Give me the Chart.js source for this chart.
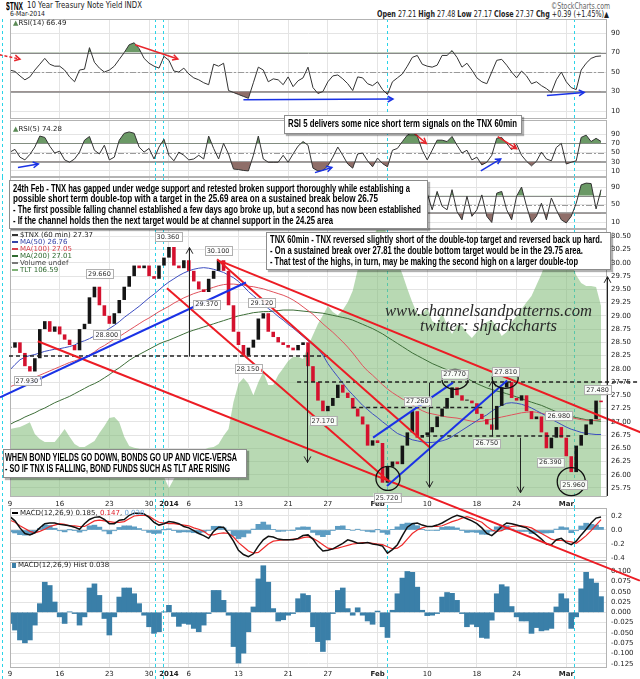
<!DOCTYPE html>
<html>
<head>
<meta charset="utf-8">
<title>$TNX 60 min</title>
<script src="https://cdn.jsdelivr.net/npm/chart.js@4.4.1/dist/chart.umd.min.js"></script>
<style>
  body { margin: 0; background: #fff; }
  #wrap { position: relative; width: 640px; height: 679px; overflow: hidden; font-family: "DejaVu Sans", sans-serif; color: #222; }
  canvas { position: absolute; left: 0; }
  .t { position: absolute; white-space: nowrap; line-height: 1; transform-origin: 0 50%; z-index: 6; }
  .box { position: absolute; background: #fff; border: 1px solid #8c8c8c; box-shadow: 2px 2px 1px rgba(0,0,0,0.3); z-index: 5; }
  .b { font-family: "Liberation Sans", Arial, sans-serif; font-weight: bold; font-size: 10px; color: #000; }
  .lg { font-size: 7px; }
  .wm { font-family: "Liberation Serif", serif; font-style: italic; font-size: 17px; color: #2a2a2a; }
  .ic { display: inline-block; width: 6px; height: 2px; margin-right: 2px; vertical-align: middle; }
</style>
</head>
<body>
<div id="wrap">
  <canvas id="cRsi14" width="640" height="100" style="top:19px;z-index:1"></canvas>
  <canvas id="cRsi5" width="640" height="57" style="top:120px;z-index:1"></canvas>
  <canvas id="cRsiC" width="640" height="52" style="top:177px;z-index:1"></canvas>
  <canvas id="cMacd" width="640" height="53" style="top:508px;z-index:1"></canvas>
  <canvas id="cHist" width="640" height="117" style="top:562px;z-index:1"></canvas>
  <canvas id="cMain" width="640" height="450" style="top:229px;z-index:3"></canvas>

  <div class="t b" style="left:6px;top:1px;font-size:11px" data-w="17">$TNX</div>
  <div class="t" style="left:27px;top:2px;font-size:8px" data-w="115">10 Year Treasury Note Yield INDX</div>
  <div class="t" style="left:10px;top:11px;font-size:7px" data-w="35">6-Mar-2014</div>
  <div class="t" style="left:551px;top:3px;font-size:8px;color:#666" data-w="59">©StockCharts.com</div>
  <div class="t" style="left:377px;top:11px;font-size:8px" data-w="232"><b>Open</b> 27.21 <b>High</b> 27.48 <b>Low</b> 27.17 <b>Close</b> 27.37 <b>Chg</b> +0.39 (+1.45%)▲</div>

  <div class="t lg" style="left:13px;top:20px"><span style="color:#5a8a55">▲</span>RSI(14) 66.49</div>
  <div class="t lg" style="left:13px;top:126px"><span style="color:#5a8a55">▲</span>RSI(5) 74.28</div>

  <div class="box" style="left:284px;top:115px;width:236px;height:17px"></div>
  <div class="t b" style="left:288px;top:119px" data-w="229">RSI 5 delivers some nice short term signals on the TNX 60min</div>

  <div class="box" style="left:9px;top:180px;width:417px;height:47px"></div>
  <div class="t b" style="left:13px;top:184px" data-w="397">24th Feb - TNX has gapped under wedge support and retested broken support thoroughly while establishing a</div>
  <div class="t b" style="left:13px;top:194px" data-w="365">possible short term double-top with a target in the 25.69 area on a sustained break below 26.75</div>
  <div class="t b" style="left:13px;top:205px" data-w="408">- The first possible falling channel established a few days ago broke up, but a second has now been established</div>
  <div class="t b" style="left:13px;top:216px" data-w="320">- If the channel holds then the next target would be at channel support in the 24.25 area</div>

  <div class="box" style="left:266px;top:232px;width:343px;height:36px"></div>
  <div class="t b" style="left:270px;top:235px" data-w="332">TNX 60min - TNX reversed slightly short of the double-top target and reversed back up hard.</div>
  <div class="t b" style="left:270px;top:246px" data-w="313">- On a sustained break over 27.81 the double bottom target would be in the 29.75 area.</div>
  <div class="t b" style="left:270px;top:257px" data-w="308">- That test of the highs, in turn, may be making the second high on a larger double-top</div>

  <div class="box" style="left:3px;top:449px;width:242px;height:27px"></div>
  <div class="t b" style="left:5px;top:453px" data-w="232">WHEN BOND YIELDS GO DOWN, BONDS GO UP AND VICE-VERSA</div>
  <div class="t b" style="left:5px;top:464px" data-w="225">- SO IF TNX IS FALLING, BOND FUNDS SUCH AS TLT ARE RISING</div>

  <div class="t wm" style="left:385px;top:302px" data-w="207">www.channelsandpatterns.com</div>
  <div class="t wm" style="left:420px;top:317px" data-w="137">twitter: shjackcharts</div>

  <div class="t lg" style="left:12px;top:232px"><span class="ic" style="background:#333"></span>$TNX (60 min) 27.37</div>
  <div class="t lg" style="left:12px;top:239px;color:#3342a8"><span class="ic" style="background:#3342a8"></span>MA(50) 26.76</div>
  <div class="t lg" style="left:12px;top:246px;color:#d8404c"><span class="ic" style="background:#d8404c"></span>MA(100) 27.05</div>
  <div class="t lg" style="left:12px;top:253px;color:#2f6a2f"><span class="ic" style="background:#2f6a2f"></span>MA(200) 27.01</div>
  <div class="t lg" style="left:12px;top:260px;color:#444"><span class="ic" style="background:#777"></span>Volume undef</div>
  <div class="t lg" style="left:12px;top:267px;color:#2f6a2f"><span class="ic" style="background:#7fb377"></span>TLT 106.59</div>

  <div class="t lg" style="left:12px;top:510px"><span class="ic" style="background:#000"></span>MACD(12,26,9) 0.185, <span style="color:#e0202a">0.147</span>, <span style="color:#6aa4d8">0.038</span></div>
  <div class="t lg" style="left:12px;top:562px"><span class="ic" style="background:#3a7fa8;height:5px;width:4px"></span>MACD(12,26,9) Hist 0.038</div>
</div>

<script>
// x positions are half trading days, 9 Dec 2013 .. 6 Mar 2014
const tickDays = [0, 10, 20, 28, 32, 36, 46, 56, 64, 74, 84, 94, 102, 112];
const tickText = ['9', '16', '23', '30', '2014', '6', '13', '21', '27', 'Feb', '10', '18', '24', 'Mar'];
const boldTicks = ['2014', 'Feb', 'Mar'];
const markerDays = [-1.6, 29.2, 30.8, 75.9, 113.5];

const closes = [28.40,28.50,28.30,28.05,27.95,28.20,28.75,28.90,28.70,28.80,
  28.65,28.55,28.45,28.35,28.75,28.85,29.35,29.55,29.20,29.00,
  28.85,29.05,29.30,29.55,29.75,29.95,29.90,29.95,29.75,29.70,
  29.95,30.10,30.30,29.95,29.90,30.05,29.85,29.65,29.50,29.45,
  29.70,29.85,30.05,29.85,29.20,28.70,28.45,28.25,28.40,28.55,
  28.95,29.05,28.70,28.60,28.50,28.45,28.40,28.35,28.45,28.50,
  28.05,27.75,27.40,27.20,27.30,27.45,27.70,27.55,27.45,27.25,
  27.10,26.95,26.55,26.65,26.60,25.85,26.15,26.25,26.20,26.55,
  26.80,27.20,26.70,26.75,26.80,26.90,27.10,27.25,27.45,27.65,
  27.50,27.40,27.40,27.35,27.15,27.05,26.95,26.85,27.30,27.65,
  27.75,27.45,27.40,27.50,27.20,27.05,27.10,26.80,26.50,26.70,
  26.90,26.70,26.35,26.05,26.55,26.75,26.95,27.05,27.40,27.37];

const ma50 = [27.98,28.08,28.17,28.22,28.25,28.27,28.30,28.33,28.35,28.37,
  28.38,28.40,28.42,28.45,28.50,28.53,28.57,28.62,28.67,28.70,
  28.76,28.82,28.89,28.97,29.04,29.11,29.18,29.26,29.34,29.41,
  29.49,29.57,29.64,29.70,29.76,29.81,29.85,29.88,29.90,29.91,
  29.90,29.88,29.85,29.82,29.77,29.72,29.65,29.56,29.46,29.38,
  29.30,29.22,29.14,29.07,28.99,28.92,28.84,28.77,28.69,28.61,
  28.53,28.45,28.37,28.26,28.10,27.97,27.85,27.73,27.61,27.51,
  27.41,27.31,27.23,27.15,27.08,27.00,26.93,26.85,26.78,26.74,
  26.70,26.66,26.64,26.62,26.61,26.61,26.62,26.64,26.67,26.72,
  26.78,26.84,26.90,26.96,27.02,27.08,27.13,27.20,27.26,27.31,
  27.35,27.36,27.35,27.33,27.30,27.26,27.21,27.16,27.11,27.05,
  27.00,26.95,26.90,26.86,26.83,26.80,26.78,26.77,26.76,26.76];

const ma100 = [27.66,27.70,27.74,27.77,27.81,27.84,27.88,27.92,27.96,28.00,
  28.04,28.08,28.12,28.15,28.18,28.21,28.26,28.32,28.39,28.44,
  28.50,28.56,28.61,28.67,28.73,28.79,28.85,28.91,28.96,29.02,
  29.08,29.13,29.18,29.24,29.29,29.34,29.38,29.42,29.45,29.48,
  29.51,29.54,29.57,29.59,29.60,29.60,29.59,29.58,29.56,29.55,
  29.53,29.51,29.48,29.45,29.42,29.39,29.35,29.30,29.24,29.17,
  29.10,29.03,28.94,28.85,28.77,28.69,28.60,28.51,28.41,28.30,
  28.18,28.06,27.96,27.88,27.79,27.70,27.62,27.55,27.49,27.43,
  27.38,27.32,27.26,27.21,27.17,27.15,27.13,27.11,27.09,27.08,
  27.07,27.05,27.03,27.01,27.00,27.01,27.03,27.05,27.07,27.09,
  27.11,27.13,27.15,27.17,27.18,27.19,27.18,27.16,27.14,27.13,
  27.12,27.11,27.09,27.08,27.06,27.04,27.03,27.02,27.03,27.05];

const ma200 = [26.95,27.00,27.04,27.09,27.13,27.17,27.22,27.26,27.31,27.36,
  27.40,27.44,27.48,27.53,27.58,27.63,27.68,27.72,27.77,27.83,
  27.89,27.96,28.02,28.09,28.16,28.22,28.27,28.32,28.37,28.42,
  28.47,28.51,28.54,28.58,28.62,28.66,28.70,28.73,28.76,28.79,
  28.82,28.85,28.88,28.91,28.94,28.97,29.00,29.02,29.04,29.06,
  29.07,29.08,29.08,29.09,29.10,29.11,29.11,29.11,29.10,29.09,
  29.08,29.07,29.06,29.05,29.03,29.01,28.99,28.97,28.95,28.92,
  28.88,28.84,28.80,28.76,28.71,28.66,28.60,28.54,28.48,28.42,
  28.36,28.30,28.25,28.20,28.15,28.10,28.06,28.02,27.98,27.94,
  27.90,27.86,27.82,27.77,27.72,27.68,27.64,27.61,27.58,27.56,
  27.53,27.50,27.47,27.44,27.40,27.37,27.34,27.31,27.27,27.23,
  27.19,27.15,27.12,27.10,27.08,27.06,27.04,27.03,27.02,27.01];

const tlt = [102.99,103.02,103.05,103.11,103.19,102.84,102.70,102.61,102.61,102.61,
  102.79,102.99,102.76,102.55,102.46,102.46,102.55,102.64,102.87,103.08,
  103.31,103.34,103.19,102.76,102.49,102.44,102.41,102.32,102.23,102.14,
  102.03,101.59,101.26,101.53,101.76,101.85,101.88,101.97,102.14,102.38,
  102.44,102.46,102.55,102.79,102.99,103.78,104.31,104.48,104.31,103.98,
  104.36,104.66,104.28,104.28,104.57,104.77,104.98,105.10,105.10,105.04,
  105.42,105.74,106.06,106.32,106.59,106.41,106.32,106.47,106.70,107.03,
  107.64,108.02,108.25,108.58,108.87,109.00,108.66,108.23,107.88,107.52,
  107.09,106.70,106.35,106.35,106.53,106.15,106.06,106.38,106.03,105.77,
  106.03,106.00,105.80,105.65,105.83,106.00,106.12,106.18,105.97,105.71,
  105.83,106.12,106.29,106.50,106.70,106.88,107.20,107.52,107.93,108.34,
  108.75,108.75,108.52,107.88,107.49,107.26,107.17,107.17,107.14,106.59];

const rsi14 = [52,50.6,46,42,45,52,58,64,58,56,
  56,52,45,40,52,53,75,60,54,50,
  52,56,63,70,78,80,74,64,59,56,
  54,66,62,51,50,54,48,44,42,39,
  37,58,56,59,31,29,27,25,23,39,
  55,52,40,43,42,37,45,35,41,44,
  55,34,28,30,40,46,47,43,38,31,
  45,44,38,36,40,32,27,40,44,48,
  56,65,67,58,56,55,57,67,67,72,
  65,55,59,52,44,40,38,50,62,63,
  57,50,44,51,46,38,40,36,33,29,
  42,50,40,34,32,52,59,64,66,66.49];

const rsi5 = [51,57,40,34,46,62,86,83,64,49,
  53,34,29,36,51,77,85,55,47,66,
  34,40,77,92,95,92,62,51,59,36,
  62,79,44,32,51,44,34,36,44,36,
  86,59,36,70,47,14,13,11,10,44,
  86,36,29,29,29,44,29,47,64,74,
  66,16,10,11,21,40,62,44,25,16,
  47,49,32,19,38,26,19,55,59,74,
  88,94,86,55,34,55,77,77,74,85,
  66,49,55,34,40,23,29,44,81,83,
  70,56,68,44,31,21,31,51,36,32,
  61,70,25,29,32,83,88,74,81,74.28];

// third oscillator: only the part right of the note box can be read
const rsiCStart = 84;
const rsiC = [76,38,80,46,38,84,34,15,69,23,38,72,23,9,76,80,38,15,69,90,
  46,9,23,53,15,65,38,15,8,23,53,95,99,98,40,84];

const macd = [0.19,0.13,0.03,-0.05,-0.07,-0.04,0.03,0.09,0.10,0.10,
  0.08,0.07,0.06,0.04,0.01,0.09,0.15,0.18,0.19,0.15,
  0.09,0.09,0.14,0.15,0.21,0.24,0.24,0.23,0.18,0.11,
  0.07,0.09,0.12,0.11,0.09,0.05,0.03,-0.01,-0.05,-0.08,
  -0.12,-0.02,0.04,0.04,-0.05,-0.16,-0.29,-0.35,-0.38,-0.34,
  -0.23,-0.14,-0.09,-0.10,-0.13,-0.14,-0.14,-0.14,-0.12,-0.08,
  -0.07,-0.13,-0.23,-0.30,-0.29,-0.27,-0.23,-0.19,-0.14,-0.16,
  -0.19,-0.19,-0.18,-0.20,-0.21,-0.23,-0.33,-0.28,-0.21,-0.08,
  0.04,0.09,0.10,0.07,0.05,0.05,0.07,0.10,0.14,0.18,
  0.21,0.19,0.16,0.13,0.09,0.03,-0.05,-0.08,-0.02,0.05,
  0.10,0.09,0.07,0.05,0.03,-0.02,-0.07,-0.13,-0.20,-0.21,
  -0.14,-0.12,-0.18,-0.21,-0.16,-0.07,0.01,0.10,0.17,0.185];

const signal = [0.14,0.11,0.06,0.02,-0.02,-0.04,-0.02,0.01,0.05,0.07,
  0.09,0.08,0.06,0.06,0.05,0.05,0.09,0.13,0.14,0.13,
  0.12,0.11,0.11,0.12,0.16,0.20,0.21,0.21,0.20,0.15,
  0.11,0.10,0.09,0.09,0.08,0.07,0.06,0.03,0.01,-0.02,
  -0.07,-0.07,-0.05,-0.04,-0.05,-0.10,-0.18,-0.24,-0.30,-0.33,
  -0.32,-0.26,-0.20,-0.16,-0.15,-0.14,-0.14,-0.13,-0.13,-0.11,
  -0.10,-0.12,-0.16,-0.21,-0.26,-0.27,-0.26,-0.24,-0.22,-0.20,
  -0.19,-0.18,-0.18,-0.19,-0.20,-0.21,-0.24,-0.27,-0.26,-0.21,
  -0.13,-0.05,0.00,0.03,0.05,0.05,0.05,0.06,0.09,0.12,
  0.14,0.17,0.19,0.17,0.14,0.11,0.05,0.00,-0.02,-0.01,
  0.03,0.05,0.06,0.06,0.05,0.03,-0.01,-0.05,-0.09,-0.13,
  -0.15,-0.15,-0.16,-0.17,-0.19,-0.14,-0.08,-0.01,0.07,0.147];

const hist = [-0.027,-0.043,-0.067,-0.074,-0.067,-0.031,0.021,0.073,0.065,0.025,
  -0.011,-0.027,0.001,-0.003,-0.031,-0.011,0.059,0.069,0.041,-0.015,
  -0.055,-0.011,0.037,0.059,0.059,0.045,0.021,-0.007,-0.035,-0.051,
  -0.047,0.001,0.017,-0.010,-0.034,-0.027,-0.029,-0.039,-0.047,-0.031,
  -0.003,0.053,0.053,0.029,-0.007,-0.083,-0.123,-0.099,-0.047,0.013,
  0.081,0.113,0.073,0.009,-0.021,-0.018,-0.007,-0.003,0.033,0.045,
  0.041,-0.035,-0.071,-0.095,-0.067,-0.003,0.053,0.059,0.009,-0.007,
  0.011,-0.007,-0.021,-0.029,0.003,-0.035,-0.061,0.005,0.045,0.083,
  0.099,0.097,0.061,0.005,-0.008,-0.007,-0.003,0.037,0.048,0.046,
  0.029,-0.003,-0.035,-0.029,-0.035,-0.061,-0.063,-0.019,0.045,0.067,
  0.062,0.014,-0.011,-0.021,-0.021,-0.051,-0.037,-0.045,-0.043,-0.039,
  0.013,0.045,0.033,-0.039,-0.011,0.057,0.097,0.081,0.071,0.038];

const priceTicks = [25.75,26.00,26.25,26.50,26.75,27.00,27.25,27.50,27.75,28.00,28.25,28.50,28.75,29.00,29.25,29.50,29.75,30.00,30.25,30.50];
const rsiTicks = [10, 30, 50, 70, 90];
const macdTicks = [-0.4, -0.2, 0.0, 0.2];
const histTicks = [-0.125,-0.100,-0.075,-0.050,-0.025,0.000,0.025,0.050,0.075,0.100];

// hand-drawn annotations, in (half-day index, value) of their panel
const redLines = [[5.6,28.52,126.8,24.00],[31.6,29.52,76.1,25.89],[41.7,30.07,84.6,26.51],[42.5,30.03,127,26.80]];
const blueLines = [[-2.0,27.46,47.5,29.63],[73.1,26.70,89.2,27.74],[75.9,25.79,100.1,27.78]];
const levels = [[28.24,-0.2,64.4],[27.75,57.8,127],[27.27,68.9,95.3],[26.73,83.8,112.8]];
const bigArrows = [[36.0,28.23,36.0,30.29],[59.8,28.31,59.8,26.23],[84.4,27.74,84.4,25.76],[97.0,26.72,97.0,27.78],[102.7,26.70,102.7,25.66],[120.2,25.60,120.2,29.74]];
const rings = [[76.1,25.93,12,12],[89.6,27.80,13,10],[99.7,27.82,13,10],[113.0,25.87,14,14]];
const tags = [[3.4,27.93,'d'],[18,29.66,'u'],[19.5,28.80,'d'],[31.8,30.36,'u'],[39.6,29.37,'d'],[41.9,30.10,'u'],[50.7,29.12,'u'],[47.9,28.15,'d'],[63,27.17,'d'],[75.9,25.72,'d'],[82,27.26,'u'],[89.5,27.77,'u'],[96,26.75,'d'],[99.8,27.81,'u'],[110.5,26.98,'u'],[108.8,26.39,'d'],[113.5,25.96,'d'],[118.3,27.48,'u']];
const rsi14Arrows = [[-2.1,67.7,2.0,63.3,'#e8262c',[3,2]],[25.2,78,33.8,63.3,'#e8262c'],[47,21.5,77.1,22.2,'#1a32e6'],[108.1,26,115.6,29,'#1a32e6']];
const rsi5Arrows = [[1.6,17.4,5.7,25,'#1a32e6'],[61.4,6.2,64.8,17.4,'#1a32e6'],[81,96,83.8,70,'#e8262c'],[94.8,10,98.8,36,'#1a32e6'],[98.2,85,102,58.6,'#e8262c']];
const rsiRefs = [[70,'#8a8a8a',1,[]],[50,'#9a9a9a',1,[6,2,2,2]],[30,'#a0a0a0',2,[]]];

const idx = closes.map((c, i) => i);
const xMin = 0, xMax = 120.2;

function chevron(ctx, x1, y1, x2, y2, size) {
  const a = Math.atan2(y2 - y1, x2 - x1);
  ctx.setLineDash([]);
  ctx.beginPath();
  ctx.moveTo(x2 - size * Math.cos(a - 0.5), y2 - size * Math.sin(a - 0.5));
  ctx.lineTo(x2, y2);
  ctx.lineTo(x2 - size * Math.cos(a + 0.5), y2 - size * Math.sin(a + 0.5));
  ctx.stroke();
}

function overlay(spec) {
  return {
    id: 'overlay',
    beforeDatasetsDraw(chart) {
      const {ctx, chartArea: a} = chart;
      const xs = chart.scales.x, ys = chart.scales.y;
      ctx.save();
      (spec.refs || []).forEach(([v, col, w, dash]) => {
        const y = Math.round(ys.getPixelForValue(v)) + (w === 1 ? 0.5 : 0);
        ctx.strokeStyle = col; ctx.lineWidth = w; ctx.setLineDash(dash);
        ctx.beginPath(); ctx.moveTo(a.left, y); ctx.lineTo(a.right, y); ctx.stroke();
      });
      ctx.strokeStyle = '#2ad4e8'; ctx.lineWidth = 1; ctx.setLineDash([3, 3]);
      const bottom = spec.cyanBottom != null ? spec.cyanBottom(a) : chart.height;
      markerDays.forEach(d => {
        const px = Math.round(xs.getPixelForValue(d)) + 0.5;
        ctx.beginPath(); ctx.moveTo(px, 0); ctx.lineTo(px, bottom); ctx.stroke();
      });
      ctx.restore();
    },
    afterDatasetsDraw(chart) {
      const {ctx, chartArea: a} = chart;
      const xs = chart.scales.x, ys = chart.scales.y;
      const X = v => xs.getPixelForValue(v), Y = v => ys.getPixelForValue(v);
      ctx.save();
      ctx.strokeStyle = '#b3b3b3'; ctx.lineWidth = 1; ctx.setLineDash([]);
      ctx.strokeRect(a.left + 0.5, a.top + 0.5, a.width - 1, a.height - 1);

      (spec.levels || []).forEach(([v, i1, i2]) => {
        ctx.strokeStyle = '#222'; ctx.lineWidth = 1.5; ctx.setLineDash([4, 3]);
        ctx.beginPath(); ctx.moveTo(X(i1), Y(v)); ctx.lineTo(X(i2), Y(v)); ctx.stroke();
      });
      const seg = (list, col, w) => list.forEach(([i1, v1, i2, v2]) => {
        ctx.strokeStyle = col; ctx.lineWidth = w; ctx.setLineDash([]);
        ctx.beginPath(); ctx.moveTo(X(i1), Y(v1)); ctx.lineTo(X(i2), Y(v2)); ctx.stroke();
      });
      seg(spec.red || [], '#ec1c24', 2);
      seg(spec.blue || [], '#1a32e6', 2);
      (spec.bigArrows || []).forEach(([i1, v1, i2, v2]) => {
        ctx.strokeStyle = '#222'; ctx.lineWidth = 1; ctx.setLineDash([]);
        const x1 = Math.round(X(i1)) + 0.5, x2 = Math.round(X(i2)) + 0.5;
        ctx.beginPath(); ctx.moveTo(x1, Y(v1)); ctx.lineTo(x2, Y(v2)); ctx.stroke();
        chevron(ctx, x1, Y(v1), x2, Y(v2), 7);
      });
      (spec.arrows || []).forEach(([i1, v1, i2, v2, col, dash]) => {
        ctx.strokeStyle = col; ctx.lineWidth = 1.5; ctx.setLineDash(dash || []);
        ctx.beginPath(); ctx.moveTo(X(i1), Y(v1)); ctx.lineTo(X(i2), Y(v2)); ctx.stroke();
        chevron(ctx, X(i1), Y(v1), X(i2), Y(v2), 6);
      });
      (spec.rings || []).forEach(([i, v, rx, ry]) => {
        ctx.strokeStyle = '#111'; ctx.lineWidth = 1.3; ctx.setLineDash([]);
        ctx.beginPath(); ctx.ellipse(X(i), Y(v), rx, ry, 0, 0, Math.PI * 2); ctx.stroke();
      });
      ctx.font = '6.5px "DejaVu Sans"';
      ctx.textAlign = 'center'; ctx.textBaseline = 'middle';
      (spec.tags || []).forEach(([i, v, dir]) => {
        const txt = v.toFixed(3);
        const w = ctx.measureText(txt).width + 4, h = 9;
        const px = X(i), py = Y(v);
        const cy = dir === 'u' ? py - 7 : py + 8;
        ctx.fillStyle = 'rgba(255,255,255,0.92)'; ctx.strokeStyle = '#b0b0b0'; ctx.lineWidth = 1;
        ctx.fillRect(px - w / 2, cy - h / 2, w, h);
        ctx.strokeRect(Math.round(px - w / 2) + 0.5, Math.round(cy - h / 2) + 0.5, Math.round(w), h);
        ctx.fillStyle = '#333';
        ctx.fillText(txt, px, cy + 0.5);
      });
      ctx.restore();
    }
  };
}

function xAxis(h, show, pad) {
  return {
    type: 'linear', min: xMin, max: xMax, offset: false,
    afterBuildTicks: s => { s.ticks = tickDays.map(v => ({value: v})); },
    afterFit: s => { s.height = h; s.paddingLeft = 0; s.paddingRight = 0; },
    grid: {color: '#e4e4e4', drawTicks: false, offset: false},
    border: {display: false},
    ticks: {
      display: show, padding: pad || 3, autoSkip: false, maxRotation: 0, color: '#222',
      font: c => ({family: 'DejaVu Sans', size: 7, weight: boldTicks.includes(tickText[c.index]) ? 'bold' : 'normal'}),
      callback: (v, k) => tickText[k]
    }
  };
}

function yAxis(min, max, ticks, dec) {
  return {
    position: 'right', min, max,
    afterBuildTicks: s => { s.ticks = ticks.map(v => ({value: v})); },
    afterFit: s => { s.width = 33; s.paddingTop = 0; s.paddingBottom = 0; },
    grid: {color: '#e4e4e4', drawTicks: false},
    border: {display: false},
    ticks: {padding: 4, color: '#222', font: {family: 'DejaVu Sans', size: 7}, callback: v => v.toFixed(dec)}
  };
}

function panel(id, datasets, scales, spec) {
  return new Chart(document.getElementById(id), {
    type: 'line',
    data: {labels: idx, datasets},
    options: {
      responsive: false, animation: false, events: [],
      layout: {padding: {left: 10, right: 0, top: 0, bottom: 0}},
      elements: {point: {radius: 0}, line: {tension: 0}},
      plugins: {legend: {display: false}, tooltip: {enabled: false}},
      scales
    },
    plugins: [overlay(spec)]
  });
}

function rsiSets(data) {
  return [
    {data, borderColor: '#333', borderWidth: 1, fill: {target: {value: 70}, above: '#6b9966', below: 'rgba(0,0,0,0)'}},
    {data, borderColor: 'rgba(0,0,0,0)', borderWidth: 0, fill: {target: {value: 30}, above: 'rgba(0,0,0,0)', below: '#8f6e69'}}
  ];
}

panel('cRsi14', rsiSets(rsi14), {x: xAxis(0, false), y: yAxis(1.8, 104.4, rsiTicks, 0)},
  {refs: rsiRefs, arrows: rsi14Arrows});
panel('cRsi5', rsiSets(rsi5), {x: xAxis(0, false), y: yAxis(-3.3, 121, rsiTicks, 0)},
  {refs: rsiRefs, arrows: rsi5Arrows});
panel('cRsiC', rsiSets(rsiC.map((v, k) => ({x: rsiCStart + k, y: v}))),
  {x: xAxis(0, false), y: yAxis(-6, 113, rsiTicks, 0)}, {refs: rsiRefs});

const bodies = closes.map((c, i) => [i ? closes[i - 1] : c, c]);
const bodyColors = closes.map((c, i) => (i && c < closes[i - 1]) ? '#d4112e' : '#151515');

panel('cMain', [
  {type: 'bar', data: bodies, backgroundColor: bodyColors, minBarLength: 1, barPercentage: 0.72, categoryPercentage: 1, order: 2},
  {data: ma50, borderColor: '#3b4cc0', borderWidth: 1, order: 3},
  {data: ma100, borderColor: '#e0525c', borderWidth: 1, order: 3},
  {data: ma200, borderColor: '#3d6e38', borderWidth: 1, order: 3},
  {data: tlt, yAxisID: 'yT', borderWidth: 0, borderColor: 'rgba(0,0,0,0)', backgroundColor: 'rgba(126,186,116,0.55)', fill: 'start', order: 9}
], {
  x: xAxis(182, true, 3),
  y: yAxis(25.58, 30.64, priceTicks, 2),
  yT: {display: false, min: 101.0, max: 108.84}
}, {
  cyanBottom: a => a.bottom + 11,
  red: redLines, blue: blueLines, levels, bigArrows, rings, tags
});

panel('cMacd', [
  {type: 'bar', data: hist, backgroundColor: '#5c9cc2', barPercentage: 1, categoryPercentage: 1, order: 3},
  {data: signal, borderColor: '#ee2a2a', borderWidth: 1.2, order: 2},
  {data: macd, borderColor: '#111', borderWidth: 1.5, order: 1}
], {x: xAxis(0, false), y: yAxis(-0.443, 0.314, macdTicks, 1)}, {});

panel('cHist', [
  {type: 'bar', data: hist, backgroundColor: '#3a7fa8', barPercentage: 1, categoryPercentage: 1}
], {x: xAxis(11, true, 2), y: yAxis(-0.135, 0.122, histTicks, 3)}, {cyanBottom: a => a.bottom + 11});

function fit() {
  document.querySelectorAll('.t[data-w]').forEach(el => {
    el.style.transform = 'none';
    const w = el.getBoundingClientRect().width;
    if (w) el.style.transform = 'scaleX(' + (el.dataset.w / w) + ')';
  });
}
fit();
document.fonts.ready.then(fit);
</script>
</body>
</html>
